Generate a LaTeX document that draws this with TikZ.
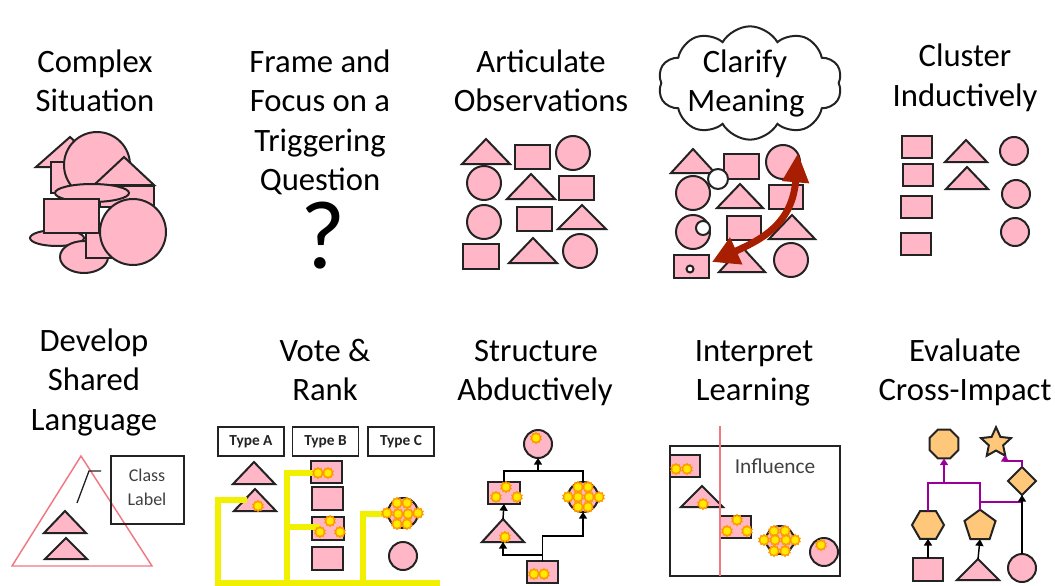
\documentclass[tikz,border=0pt]{standalone}
\usepackage{fontspec}
\setmainfont{Carlito}
\usetikzlibrary{shapes.geometric,shapes.symbols,arrows.meta}
\definecolor{pk}{RGB}{255,183,200}
\definecolor{ol}{RGB}{35,35,35}
\definecolor{peach}{RGB}{255,199,122}
\definecolor{yl}{RGB}{240,240,0}
\definecolor{pur}{RGB}{153,0,153}
\definecolor{dred}{RGB}{168,30,0}
\definecolor{lred}{RGB}{240,120,130}
\definecolor{sunor}{RGB}{255,150,0}
\definecolor{suny}{RGB}{255,235,0}
\definecolor{tg}{RGB}{64,64,64}
\newcommand\mkRect[5]{\pgfmathsetmacro\ww{(#4-#2)*0.75}\pgfmathsetmacro\hh{(#5-#3)*0.75}\node[shp,rectangle,minimum width=\ww pt,minimum height=\hh pt] (#1) at ({(#2+#4)/2},{(#3+#5)/2}) {};}
\newcommand\mkCirc[5][pk]{\pgfmathsetmacro\dd{#5*1.5}\node[shp,circle,fill=#1,minimum size=\dd pt] (#2) at (#3,#4) {};}
\newcommand\mkTri[5]{\draw[shp] ({#2-#4},#3) -- (#2,{#3-#5}) -- ({#2+#4},#3) -- cycle; \coordinate (#1-top) at (#2,{#3-#5}); \coordinate (#1-bot) at (#2,#3);}
\newcommand\mkEll[5]{\pgfmathsetmacro\ww{#4*1.5}\pgfmathsetmacro\hh{#5*1.5}\node[shp,ellipse,minimum width=\ww pt,minimum height=\hh pt] (#1) at (#2,#3) {};}
\newcommand\mkSun[3]{\node[sun] (#1) at (#2,#3) {};}
\begin{document}
\begin{tikzpicture}[x=0.75pt,y=-0.75pt,
 shp/.style={draw=ol,fill=pk,line width=1.5pt,inner sep=0pt,outer sep=0pt},
 pshp/.style={draw=ol,fill=peach,line width=1.5pt,inner sep=0pt,outer sep=0pt},
 ttl/.style={anchor=base,inner sep=0pt,font=\fontsize{24.5}{29}\selectfont},
 lbl/.style={anchor=base,inner sep=0pt,text=tg},
 conn/.style={draw=black,line width=1.1pt},
 pconn/.style={draw=pur,line width=1.3pt},
 arr/.style={-{Triangle[width=6pt,length=5pt]}},
 ylw/.style={draw=yl,line width=4.5pt},
 sun/.style={star,star points=10,star point ratio=1.35,fill=suny,draw=sunor,line width=0.9pt,minimum size=8pt,inner sep=0pt},
 tbox/.style={draw=ol,line width=0.8pt,minimum width=49.5pt,minimum height=21.75pt,inner sep=0pt,font=\bfseries\fontsize{11.5}{13}\selectfont,text=ol}]
\useasboundingbox (0,0) rectangle (1055,585);
% ---------- titles ----------
\node[ttl] (t1a) at (95,72) {Complex};
\node[ttl] (t1b) at (95,111) {Situation};
\node[ttl] (t2a) at (320,72) {Frame and};
\node[ttl] (t2b) at (320,111) {Focus on a};
\node[ttl] (t2c) at (320,151) {Triggering};
\node[ttl] (t2d) at (320,190) {Question};
\node[anchor=base,inner sep=0pt,font=\fontsize{73}{80}\selectfont] (q) at (323,268) {?};
\node[ttl] (t3a) at (541,72) {Articulate};
\node[ttl] (t3b) at (541,111) {Observations};
\node[cloud,cloud puffs=10,cloud puff arc=120,cloud ignores aspect,draw=ol,line width=1.5pt,fill=white,minimum width=138pt,minimum height=85pt,inner sep=0pt] (cl) at (750,83) {};
\node[ttl] (t4a) at (745,72) {Clarify};
\node[ttl] (t4b) at (746,111) {Meaning};
\node[ttl] (t5a) at (965,67) {Cluster};
\node[ttl] (t5b) at (965,106) {Inductively};
\node[ttl] (t6a) at (94,351) {Develop};
\node[ttl] (t6b) at (94,390) {Shared};
\node[ttl] (t6c) at (94,430) {Language};
\node[ttl] (t7a) at (325,361) {Vote \&};
\node[ttl] (t7b) at (325,400) {Rank};
\node[ttl] (t8a) at (536,361) {Structure};
\node[ttl] (t8b) at (535,400) {Abductively};
\node[ttl] (t9a) at (754,361) {Interpret};
\node[ttl] (t9b) at (753,400) {Learning};
\node[ttl] (t10a) at (965,361) {Evaluate};
\node[ttl] (t10b) at (965,400) {Cross-Impact};
% ---------- panel 1: complex situation ----------
\mkTri{p1a}{70}{167}{34}{30}
\mkRect{p1b}{51}{162}{80}{193}
\mkCirc{p1c}{97}{165}{33}
\mkRect{p1d}{100}{186}{154}{207}
\mkTri{p1e}{124}{185}{30}{28}
\mkEll{p1f}{92}{193}{37}{9}
\mkEll{p1g}{57}{238}{27}{8}
\mkRect{p1h}{44}{199}{99}{233}
\mkEll{p1i}{84}{257}{24}{16}
\mkRect{p1j}{86}{233}{113}{258}
\mkCirc{p1k}{133}{232}{33}
% ---------- panel 3: articulate ----------
\mkTri{a1}{486}{164}{24}{25}
\mkRect{a2}{515}{145}{550}{169}
\mkCirc{a3}{573}{153}{17}
\mkCirc{a4}{484}{183}{17}
\mkTri{a5}{531}{199}{24}{25}
\mkRect{a6}{559}{176}{594}{200}
\mkCirc{a7}{484}{222}{17}
\mkRect{a8}{517}{207}{552}{231}
\mkTri{a9}{582}{229}{24}{24}
\mkRect{a10}{463}{244}{499}{269}
\mkTri{a11}{533}{263}{24}{25}
\mkCirc{a12}{580}{251}{17}
% ---------- panel 4: clarify ----------
\mkTri{b1}{693}{173}{22}{24}
\mkRect{b2}{724}{154}{759}{179}
\mkCirc{b3}{783}{162}{17}
\mkCirc{b4}{693}{193}{17}
\mkCirc[white]{b0}{718}{179}{10}
\mkTri{b5}{740}{208}{23}{24}
\mkRect{b6}{769}{185}{803}{209}
\mkCirc{b7}{693}{232}{17}
\mkCirc[white]{b7w}{703}{228}{7}
\mkRect{b8}{727}{216}{761}{240}
\mkTri{b9}{792}{239}{23}{24}
\mkRect{b10}{674}{255}{709}{278}
\mkCirc[white]{b10w}{690}{269}{3.5}
\mkTri{b11}{742}{272}{23}{25}
\mkCirc{b12}{791}{260}{17}
\coordinate (ra) at (712,262);
\coordinate (rb) at (798,153);
\draw[dred,line width=5.2pt,{Triangle[width=21pt,length=20pt]}-{Triangle[width=19pt,length=22pt]}] (ra) .. controls (760,240) and (792,225) .. (rb);
% ---------- panel 5: cluster ----------
\mkRect{c1}{902}{136}{932}{158}
\mkRect{c2}{903}{164}{933}{186}
\mkRect{c3}{901}{196}{932}{218}
\mkRect{c4}{901}{233}{931}{255}
\mkTri{c5}{966}{162}{21}{22}
\mkTri{c6}{967}{189}{21}{22}
\mkCirc{c7}{1014}{151}{14}
\mkCirc{c8}{1016}{194}{14}
\mkCirc{c9}{1015}{232}{14}
% ---------- row 2, panel 1: shared language ----------
\draw[lred,line width=1.1pt] (12,566) -- (81,456) -- (152,566) -- cycle;
\node[draw=ol,line width=1.1pt,minimum width=54.75pt,minimum height=51pt,inner sep=0pt] (cbox) at (147.5,490) {};
\node[lbl,font=\fontsize{13.5}{15}\selectfont] (cl1) at (147,481) {Class};
\node[lbl,font=\fontsize{13.5}{15}\selectfont] (cl2) at (147,505) {Label};
\coordinate (ln1) at (77,503);
\coordinate (ln2) at (89,471);
\coordinate (ln3) at (101,471);
\draw[ol,line width=1pt] (ln1) -- (ln2) -- (ln3);
\mkTri{e0a}{65}{533}{21}{22}
\mkTri{e0b}{66}{559}{21}{21}
% ---------- row 2, panel 2: vote & rank ----------
\node[tbox] (ta) at (251,441.5) {Type A};
\node[tbox] (tb) at (325.5,441.5) {Type B};
\node[tbox] (tc) at (401,441.5) {Type C};
\mkTri{d1}{254}{484}{21}{22}
\mkTri{d2}{255}{511}{21}{22}
\mkRect{d3}{311}{461}{342}{483}
\mkRect{d4}{312}{487}{343}{510}
\mkRect{d5}{312}{517}{344}{540}
\mkRect{d6}{312}{547}{343}{570}
\mkCirc{d7}{403}{513}{15}
\mkCirc{d8}{403}{556}{14}
\coordinate (yb1) at (215,583);
\coordinate (yb2) at (440,583);
\coordinate (yv1) at (218,583);
\coordinate (ye1) at (247,500);
\coordinate (yv2) at (287,583);
\coordinate (yv3) at (363,583);
\draw[ylw] (yb1) -- (yb2);
\draw[ylw] (yv1) |- (ye1);
\draw[ylw] (yv2) |- (318,473);
\draw[ylw] (287,527) -- (320,527);
\draw[ylw] (yv3) |- (387,514);
\mkSun{sd1}{258}{506}
\mkSun{sd2}{318}{473}
\mkSun{sd3}{328}{473}
\mkSun{sd4}{330}{521}
\mkSun{sd5}{320}{532}
\mkSun{sd6}{340}{532}
\mkSun{sd7}{397}{503}
\mkSun{sd8}{407}{503}
\mkSun{sd9}{387}{513}
\mkSun{sd10}{398}{514}
\mkSun{sd11}{408}{514}
\mkSun{sd12}{418}{513}
\mkSun{sd13}{397}{524}
\mkSun{sd14}{407}{524}
% ---------- row 2, panel 3: structure ----------
\mkCirc{e1}{538}{444}{14}
\mkRect{e2}{488}{482}{520}{504}
\mkCirc{e3}{583}{497}{15}
\mkTri{e4}{503}{542}{21}{23}
\mkRect{e5}{527}{561}{558}{583}
\coordinate (ej) at (538,471);
\coordinate (ek) at (583,536);
\coordinate (em) at (542.5,555);
\draw[conn] (e2.north) |- (ej) -| (e3.north);
\draw[conn,arr] (ej) -- (e1.south);
\draw[conn,arr] (e4-top) -- (e2.south);
\draw[conn,arr] (e5.north) |- (ek) -- (e3.south);
\draw[conn,arr] (em) -| (e4-bot);
\mkSun{se1}{536}{438}
\mkSun{se2}{506}{487}
\mkSun{se3}{496}{497}
\mkSun{se4}{517}{497}
\mkSun{se5}{578}{487}
\mkSun{se6}{588}{487}
\mkSun{se7}{568}{497}
\mkSun{se8}{578}{497}
\mkSun{se9}{589}{497}
\mkSun{se10}{599}{497}
\mkSun{se11}{578}{507}
\mkSun{se12}{588}{507}
\mkSun{se13}{505}{537}
\mkSun{se14}{534}{574}
\mkSun{se15}{544}{574}
% ---------- row 2, panel 4: interpret ----------
\node[draw=ol,line width=1.1pt,minimum width=127.5pt,minimum height=97.5pt,inner sep=0pt] (ibox) at (755,511) {};
\node[lbl,font=\fontsize{16}{19}\selectfont] (infl) at (775,473) {Influence};
\mkRect{f1}{670}{455}{700}{477}
\mkTri{f2}{702}{507}{21}{21}
\mkRect{f3}{720}{516}{751}{538}
\mkCirc{f4}{780}{540}{14}
\mkCirc{f5}{824}{552}{14}
\coordinate (rl1) at (720,426);
\coordinate (rl2) at (720,576);
\draw[lred,line width=1.1pt] (rl1) -- (rl2);
\mkSun{sf1}{676}{469}
\mkSun{sf2}{687}{469}
\mkSun{sf3}{703}{504}
\mkSun{sf4}{737}{520}
\mkSun{sf5}{727}{531}
\mkSun{sf6}{747}{531}
\mkSun{sf7}{774}{531}
\mkSun{sf8}{785}{531}
\mkSun{sf9}{764}{540}
\mkSun{sf10}{775}{540}
\mkSun{sf11}{786}{540}
\mkSun{sf12}{795}{540}
\mkSun{sf13}{774}{551}
\mkSun{sf14}{785}{551}
\mkSun{sf15}{821}{545}
% ---------- row 2, panel 5: cross-impact ----------
\node[pshp,regular polygon,regular polygon sides=8,minimum size=23.5pt] (oct) at (944,444) {};
\node[pshp,star,star points=5,star point ratio=2.1,minimum size=23.7pt] (str) at (996,443) {};
\node[pshp,diamond,minimum width=21pt,minimum height=21pt] (dia) at (1022,481) {};
\node[pshp,regular polygon,regular polygon sides=6,minimum size=24pt] (hex) at (928,525) {};
\node[pshp,regular polygon,regular polygon sides=5,minimum size=24.5pt] (pent) at (980,526) {};
\mkRect{g1}{913}{558}{943}{581}
\mkTri{g2}{978}{580}{21}{21}
\mkCirc{g3}{1022}{568}{14}
\coordinate (gj) at (944,483);
\coordinate (gk) at (980,502);
\coordinate (gm) at (1005,461);
\coordinate (gs) at (1005,455);
\draw[pconn] (hex.north) |- (gj) -| (pent.north);
\draw[pconn,arr] (gj) -- (oct.south);
\draw[pconn] (gk) -- (gk -| dia.south);
\draw[pconn,arr] (dia.north) |- (gm) -- (gs);
\draw[conn,arr] (g1.north) -- (hex.south);
\draw[conn,arr] (g2-top) -- (pent.south);
\draw[conn,arr] (g3.north) -- (dia.south);
\end{tikzpicture}
\end{document}
